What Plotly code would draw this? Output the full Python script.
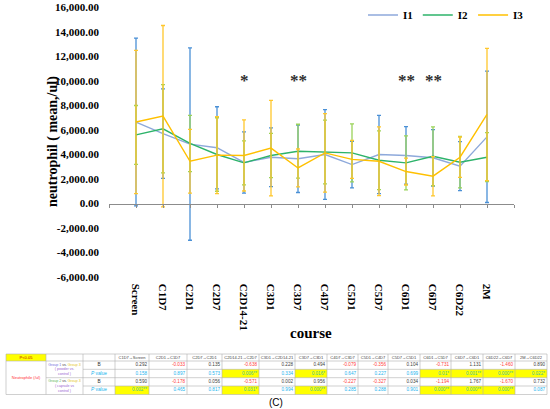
import plotly.graph_objects as go

# ---- chart data ----
courses = ["Screen", "C1D7", "C2D1", "C2D7", "C2D14-21", "C3D1", "C3D7",
           "C4D7", "C5D1", "C5D7", "C6D1", "C6D7", "C6D22", "2M"]

i1_mean = [6650, 5700, 4850, 4550, 3350, 3780, 3650, 4000, 3180, 4000, 3920, 3730, 3050, 5440]
i1_sd = [6850, 3650, 7850, 3350, 2500, 2400, 2750, 3670, 1900, 3200, 2350, 2300, 2000, 5360]
i2_mean = [5600, 6100, 4900, 4000, 3320, 3920, 4270, 4200, 4130, 3530, 3320, 3860, 3370, 3780]
i2_sd = [2400, 3600, 2300, 3000, 1800, 1800, 2200, 2600, 2370, 2400, 2200, 2400, 2100, 2000]
i3_mean = [6650, 7130, 3450, 3950, 3920, 4520, 2900, 4130, 3600, 3450, 2610, 2230, 3780, 7270]
i3_sd = [5850, 7400, 2600, 3150, 2900, 3900, 1550, 3200, 1550, 2800, 1100, 1600, 1650, 5400]

star_marks = ["", "", "", "", "*", "", "**", "", "", "", "**", "**", "", ""]
y_ticks = list(range(-6000, 16001, 2000))

# ---- table data ----
table_cols = ["C1D7→Screen", "C2D1→C1D7", "C2D7→C2D1", "C2D14-21→C2D7", "C3D1→C2D14-21",
              "C3D7→C3D1", "C4D7→C3D7", "C5D1→C4D7", "C5D7→C5D1", "C6D1→C5D7",
              "C6D7→C6D1", "C6D22→C6D7", "2M→C6D22"]
b_powder = [0.292, -0.033, 0.135, -0.638, 0.228, 0.494, -0.079, -0.356, 0.104, -0.731, 1.131, -1.460, 0.890]
p_powder = ["0.158", "0.897", "0.573", "0.006**", "0.334", "0.016*", "0.647", "0.227", "0.699",
            "0.01*", "0.001**", "0.000**", "0.022*"]
b_capsule = [0.590, -0.178, 0.056, -0.571, 0.002, 0.956, -0.227, -0.327, 0.034, -1.194, 1.767, -1.670, 0.732]
p_capsule = ["0.002**", "0.465", "0.817", "0.031*", "0.994", "0.000**", "0.285", "0.288", "0.901",
             "0.000**", "0.000**", "0.000**", "0.087"]
group_labels = ["<span style='color:#6F6FE0'>Group 1</span> vs. <span style='color:#E6C619'>Group 3</span>"
                "<br><span style='color:#9A5FD0'>( powder vs.</span><br><span style='color:#9A5FD0'>control )</span>",
                "<span style='color:#5CB85C'>Group 2</span> vs. <span style='color:#E6C619'>Group 3</span>"
                "<br><span style='color:#9A5FD0'>( capsule vs</span><br><span style='color:#9A5FD0'>control )</span>"]

W, H = 550, 409
SERIF = "Liberation Serif"


def py(v):
    return 1 - v / H


dom_y = [py(277), py(7.5)]
zero_pos = dom_y[0] + (dom_y[1] - dom_y[0]) * 6000 / 22000
xs = list(range(len(courses)))

fig = go.Figure()
series = [("I1", i1_mean, i1_sd, "#8EA9DB", "#4A90D6"),
          ("I2", i2_mean, i2_sd, "#2DB36A", "#9AD35A"),
          ("I3", i3_mean, i3_sd, "#FFC000", "#FFC72C")]
for name, mean, sd, lc, ec in series:
    fig.add_trace(go.Scatter(x=xs, y=mean, name=name, mode="lines",
                             line=dict(color=lc, width=1.4),
                             error_y=dict(type="data", array=sd, color=ec, thickness=1.3, width=2),
                             hoverinfo="skip"))

# ---- table drawn on a pixel-like second axis pair ----
col_edges = [6, 46, 83, 115, 149, 187, 222, 259, 295, 327, 358, 388, 420, 451, 483, 515, 547]
row_edges = [354, 361, 369.3, 377.7, 386, 394.5]
data_edges = col_edges[3:]

shapes = [dict(type="rect", xref="x2", yref="y2", x0=col_edges[0], x1=col_edges[1],
               y0=row_edges[0], y1=row_edges[1], fillcolor="#FFFF00", line_width=0, layer="below")]
for k, vals in ((1, p_powder), (3, p_capsule)):
    for j, v in enumerate(vals):
        if "*" in v:
            shapes.append(dict(type="rect", xref="x2", yref="y2", x0=data_edges[j], x1=data_edges[j + 1],
                               y0=row_edges[k + 1], y1=row_edges[k + 2], fillcolor="#FFFF00",
                               line_width=0, layer="below"))

grid_color = "#B0B0B0"
h_lines = [(354, 6), (361, 6), (369.3, 83), (377.7, 46), (386, 83), (394.5, 6)]
for yv, x0 in h_lines:
    shapes.append(dict(type="line", xref="x2", yref="y2", x0=x0, x1=col_edges[-1], y0=yv, y1=yv,
                       line=dict(color=grid_color, width=0.6)))
for xv in col_edges:
    shapes.append(dict(type="line", xref="x2", yref="y2", x0=xv, x1=xv, y0=row_edges[0], y1=row_edges[-1],
                       line=dict(color=grid_color, width=0.6)))

# header texts
hx = [(data_edges[j] + data_edges[j + 1]) / 2 for j in range(len(table_cols))]
hy = [(row_edges[0] + row_edges[1]) / 2] * len(table_cols)
fig.add_trace(go.Scatter(x=hx, y=hy, text=table_cols, mode="text", xaxis="x2", yaxis="y2",
                         textposition="middle center", showlegend=False, hoverinfo="skip",
                         textfont=dict(family="Liberation Sans", size=4, color="#404040")))

# cell values
tx, ty, tt, tc = [], [], [], []
for k, vals in enumerate([b_powder, p_powder, b_capsule, p_capsule]):
    yc = (row_edges[k + 1] + row_edges[k + 2]) / 2
    for j, v in enumerate(vals):
        tx.append(data_edges[j + 1] - 2)
        ty.append(yc)
        if isinstance(v, str):
            tt.append(v)
            tc.append("#3FC39A" if "*" in v else "#22B4EE")
        else:
            tt.append(f"{v:.3f}")
            tc.append("#FF4040" if v < 0 else "#404040")
fig.add_trace(go.Scatter(x=tx, y=ty, text=tt, mode="text", xaxis="x2", yaxis="y2",
                         textposition="middle left", showlegend=False, hoverinfo="skip",
                         textfont=dict(family="Liberation Sans", size=4.6, color=tc)))

# row labels
lx = [(col_edges[2] + col_edges[3]) / 2] * 4
ly = [(row_edges[k + 1] + row_edges[k + 2]) / 2 for k in range(4)]
fig.add_trace(go.Scatter(x=lx, y=ly, text=["B", "<i>P</i> value", "B", "<i>P</i> value"], mode="text",
                         xaxis="x2", yaxis="y2", textposition="middle center", showlegend=False,
                         hoverinfo="skip",
                         textfont=dict(family="Liberation Sans", size=4.8,
                                       color=["#303030", "#22B4EE", "#303030", "#22B4EE"])))
gx = [(col_edges[1] + col_edges[2]) / 2] * 2
gy = [row_edges[2], row_edges[4]]
fig.add_trace(go.Scatter(x=gx, y=gy, text=group_labels, mode="text", xaxis="x2", yaxis="y2",
                         textposition="middle center", showlegend=False, hoverinfo="skip",
                         textfont=dict(family="Liberation Sans", size=3.6, color="#404040")))
fig.add_trace(go.Scatter(x=[(col_edges[0] + col_edges[1]) / 2] * 2,
                         y=[(row_edges[0] + row_edges[1]) / 2, (row_edges[1] + row_edges[-1]) / 2],
                         text=["P<0.05", "Neutrophile (/ul)"], mode="text", xaxis="x2", yaxis="y2",
                         textposition="middle center", showlegend=False, hoverinfo="skip",
                         textfont=dict(family="Liberation Sans", size=4, color=["#C00000", "#FF3030"])))

annotations = [
    dict(text="neutrophil ( mean,/ul)", xref="paper", yref="paper", x=43 / W, y=py(142),
         textangle=-90, showarrow=False, font=dict(family=SERIF, size=14, color="black", weight="bold")),
    dict(text="course", xref="paper", yref="paper", x=311 / W, y=py(343), showarrow=False,
         font=dict(family=SERIF, size=15, color="black", weight="bold")),
    dict(text="(C)", xref="x2", yref="y2", x=276, y=402, showarrow=False,
         font=dict(family="Liberation Sans", size=10, color="black")),
]
for i, s in enumerate(star_marks):
    if s:
        annotations.append(dict(text=s, x=i, y=10000, xref="x", yref="y", showarrow=False,
                                font=dict(family=SERIF, size=17, color="#303030", weight="bold")))

fig.update_layout(
    width=W, height=H,
    margin=dict(l=0, r=0, t=0, b=0, autoexpand=False),
    paper_bgcolor="white", plot_bgcolor="rgba(0,0,0,0)",
    xaxis=dict(domain=[109 / W, 514 / W], range=[-1, 14],
               tickvals=list(range(-1, 15)), ticktext=[""] + courses + [""],
               anchor="free", position=zero_pos, showline=True, linecolor="#8C8C8C", linewidth=1,
               ticks="outside", ticklen=3, tickcolor="#8C8C8C", tickangle=90, ticklabelstandoff=74,
               tickfont=dict(family=SERIF, size=11, color="black", weight="bold"),
               showgrid=False, zeroline=False),
    yaxis=dict(domain=dom_y, range=[-6000, 16000], tickvals=y_ticks,
               ticktext=[f"{v:,.2f}" for v in y_ticks], showgrid=False, zeroline=False,
               showline=False, ticks="", ticklabelstandoff=9,
               tickfont=dict(family=SERIF, size=11, color="black", weight="bold")),
    xaxis2=dict(domain=[0, 1], range=[0, W], visible=False, anchor="y2"),
    yaxis2=dict(domain=[0, 72 / H], range=[H, H - 72], visible=False, anchor="x2"),
    legend=dict(orientation="h", x=446 / W, xanchor="center", y=py(15), yanchor="middle",
                font=dict(family=SERIF, size=11, color="black", weight="bold"),
                itemwidth=30, bgcolor="rgba(0,0,0,0)"),
    shapes=shapes,
    annotations=annotations,
)

fig.write_html("out.html", config={"displayModeBar": False},
               post_script="document.body.style.margin='0';")
